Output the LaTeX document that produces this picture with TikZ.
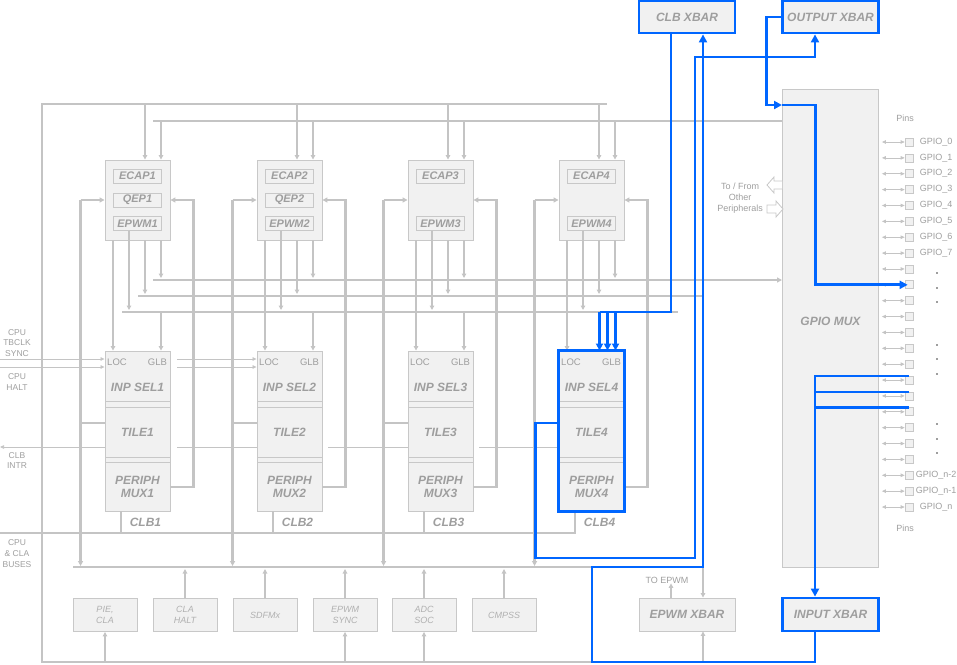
\documentclass[tikz,border=0pt]{standalone}
\usepackage{fontspec}
\setmainfont{Liberation Sans}
\usetikzlibrary{arrows.meta,positioning,calc}
\definecolor{lgray}{RGB}{196,196,196}
\definecolor{tgray}{RGB}{158,158,158}
\definecolor{ltext}{RGB}{176,176,176}
\definecolor{bfill}{RGB}{241,241,241}
\definecolor{bdraw}{RGB}{200,200,200}
\definecolor{clbblue}{RGB}{0,102,255}

\begin{document}
\begin{tikzpicture}[x=1pt,y=-1pt,
  box/.style={draw=bdraw,fill=bfill,line width=0.9pt,inner sep=0pt,align=center,text=tgray,font=\fontsize{12}{13.3}\selectfont\bfseries\itshape},
  inbox/.style={box,minimum width=48pt,minimum height=14pt,font=\fontsize{11}{12}\selectfont\bfseries\itshape},
  lowbox/.style={box,minimum width=64pt,minimum height=33pt,text=ltext,font=\fontsize{9}{10.7}\selectfont\itshape},
  xbar/.style={box,minimum width=96pt,minimum height=32pt,draw=clbblue,line width=2.8pt},
  pinsq/.style={draw=bdraw,fill=bfill,line width=0.7pt,minimum size=8pt,inner sep=0pt},
  bus/.style={draw=lgray,line width=2.6pt},
  wire/.style={draw=lgray,line width=1.8pt},
  arr/.style={wire,-{Triangle[length=4.5pt,width=4.5pt]}},
  busarr/.style={bus,-{Triangle[length=5pt,width=5pt]}},
  sig/.style={draw=lgray,line width=0.7pt},
  sigarr/.style={sig,-{Triangle[length=4pt,width=3.5pt]}},
  blueln/.style={draw=clbblue,line width=2.8pt},
  bluearr/.style={blueln,-{Triangle[length=8pt,width=8pt]}},
  lbl/.style={text=tgray,font=\fontsize{8.5}{10.7}\selectfont,align=center,inner sep=0pt},
  pinlbl/.style={text=tgray,font=\fontsize{9}{10}\selectfont,inner sep=0pt}
]
\useasboundingbox (0,0) rectangle (957,664);

% big blocks
\node[xbar] (clbxbar) at (687,17) {CLB XBAR};
\node[xbar] (outxbar) at (830.5,17) {OUTPUT XBAR};
\node[box,minimum width=96pt,minimum height=478pt,anchor=north west] (gpiomux) at (782,89) {};
\node[box,draw=none,fill=none] at ([yshift=7pt]gpiomux.center) {GPIO MUX};
\node[box,minimum width=96pt,minimum height=33pt] (epwmxbar) at (687,614.5) {EPWM XBAR};
\node[xbar,minimum height=33pt] (inpxbar) at (830.5,614.5) {INPUT XBAR};

% peripherals and CLB tiles
\foreach \k/\xo in {1/0,2/152,3/303,4/454}{
  \node[box,minimum width=65pt,minimum height=80pt] (per\k) at (137.5+\xo,200) {};
  \node[inbox] (ecap\k) at (137.5+\xo,176) {ECAP\k};
  \node[inbox] (epwm\k) at (137.5+\xo,223.5) {EPWM\k};
  \node[box,minimum width=65pt,minimum height=160pt] (clb\k) at (137.5+\xo,431) {};
  \node[box,minimum width=65pt,minimum height=50pt] (inp\k) at (137.5+\xo,376) {};
  \node[box,minimum width=65pt,minimum height=50pt] (tile\k) at (137.5+\xo,432) {TILE\k};
  \node[box,minimum width=65pt,minimum height=49pt] (pmux\k) at (137.5+\xo,487) {PERIPH\\MUX\k};
  \node[box,draw=none,fill=none] at ([yshift=-11pt]inp\k.center) {INP SEL\k};
  \node[lbl,font=\fontsize{9.5}{10}\selectfont] at ([xshift=-20.5pt,yshift=14pt]inp\k.center) {LOC};
  \node[lbl,font=\fontsize{9.5}{10}\selectfont] at ([xshift=20pt,yshift=14pt]inp\k.center) {GLB};
  \node[box,draw=none,fill=none] at ([xshift=8pt,yshift=-11pt]clb\k.south) {CLB\k};
  % into the peripherals
  \draw[arr] ([xshift=7.5pt]per\k.north |- 0,104) -- ([xshift=7.5pt]per\k.north);
  \draw[arr] ([xshift=23.5pt]per\k.north |- 0,121) -- ([xshift=23.5pt]per\k.north);
  \draw[busarr] ([xshift=-24pt]per\k.west) -- (per\k.west);
  \draw[busarr] (pmux\k.east) -| ([xshift=23pt]per\k.east) -- (per\k.east);
  % out of the peripherals
  \draw[arr] ([xshift=23.5pt]per\k.south) -- ([xshift=23.5pt]per\k.south |- 0,278);
  \draw[arr] ([xshift=7.5pt]per\k.south) -- ([xshift=7.5pt]per\k.south |- 0,294);
  \draw[arr] ([xshift=-8.5pt]epwm\k.south) -- ([xshift=-8.5pt]epwm\k.south |- 0,310);
  \draw[arr] ([xshift=-24.5pt]per\k.south) -- ([xshift=-24.5pt]inp\k.north);
  \ifnum\k<4
    \draw[arr] ([xshift=23.5pt]inp\k.north |- 0,312) -- ([xshift=23.5pt]inp\k.north);
  \fi
  % tile output and CLB bus
  \draw[busarr] ([xshift=-24pt]per\k.west) -- ([xshift=-24pt]per\k.west |- 0,566);
  \draw[bus] ([yshift=9pt]tile\k.west) -- ++(-24,0);
  \draw[bus] ([xshift=-16.5pt]clb\k.south) -- ++(0,22);
}
\foreach \k in {1,2}
  \node[inbox] (qep\k) at (per\k) {QEP\k};

% buses
\draw[bus] (607,104) -| (42,662) -- (592,662);
\draw[bus] (153,121) -- (gpiomux.west |- 0,121);
\draw[busarr] (153,280) -- (gpiomux.west |- 0,280);
\draw[bus] (138,296) -- (702,296);
\draw[bus] (122,312) -- (678,312);
\draw[bus] (0,533) -- (576,533);
\draw[bus] (73,567) -- (592,567);

% CPU side signals
\node[lbl] (tbclk) at (17,343) {CPU\\TBCLK\\SYNC};
\node[lbl] (halt) at (17,382) {CPU\\HALT};
\node[lbl] (intr) at (17,460.5) {CLB\\INTR};
\node[lbl] (cpubus) at (17,553.5) {CPU\\\& CLA\\BUSES};
\draw[sigarr] (0,359) -- (inp1.west |- 0,359);
\draw[sigarr] (0,367) -- (inp1.west |- 0,367);
\draw[sigarr] (177,359) -- (inp2.west |- 0,359);
\draw[sigarr] (177,367) -- (inp2.west |- 0,367);
\draw[sigarr] ([yshift=-15pt]tile1.west) -- (0,447);
\foreach \k in {2,3,4}
  \draw[sig] ([yshift=-15pt]tile\k.west) -- ++(-80,0);

% bottom peripherals
\foreach \n/\x/\t in {pie/105/{PIE,\\CLA},clahalt/185/{CLA\\HALT},sdfm/265/SDFMx,
    epwmsync/345/{EPWM\\SYNC},adcsoc/424/{ADC\\SOC},cmpss/504/CMPSS}
  \node[lowbox] (\n) at (\x,615) {\t};
\foreach \n in {clahalt,sdfm,epwmsync,adcsoc,cmpss}
  \draw[arr] (\n.north) -- (\n.north |- 0,569);
\foreach \n in {pie,epwmsync,adcsoc}
  \draw[arr] (\n.south |- 0,662) -- (\n.south);

% EPWM XBAR
\node[lbl,font=\fontsize{9}{10}\selectfont] (toepwm) at (667,580) {TO EPWM};
\draw[arr] ([xshift=-16pt]epwmxbar.north) -- ([xshift=-16pt]epwmxbar.north |- toepwm.south);
\draw[arr] ([xshift=16pt]epwmxbar.north |- 0,567) -- ([xshift=16pt]epwmxbar.north);
\draw[arr] ([xshift=16pt]epwmxbar.south |- 0,662) -- ([xshift=16pt]epwmxbar.south);

% other peripherals
\node[lbl,font=\fontsize{9}{11}\selectfont] (tofrom) at (740,198) {To / From\\Other\\Peripherals};
\draw[draw=bdraw,fill=white,line width=0.8pt] (782,181) -- (774,181) -- (774,177) -- (767,185)
  -- (774,193) -- (774,189) -- (782,189);
\draw[draw=bdraw,fill=white,line width=0.8pt] (767,205) -- (776,205) -- (776,201) -- (783,209)
  -- (776,217) -- (776,213) -- (767,213) -- cycle;

% pins
\node[pinlbl] at (905,118) {Pins};
\node[pinlbl] at (905,528) {Pins};
\foreach \i in {0,...,23}{
  \node[pinsq] (pin\i) at (909,142+15.87*\i) {};
  \draw[sig,{Triangle[length=4pt,width=3.5pt]}-{Triangle[length=4pt,width=3.5pt]}]
    ([xshift=3pt]gpiomux.east |- pin\i.west) -- (pin\i.west);
}
\foreach \i in {0,...,7}
  \node[pinlbl] at (936,142+15.87*\i) {GPIO\_\i};
\foreach \i/\t in {21/n-2,22/n-1,23/n}
  \node[pinlbl] at (936,142+15.87*\i) {GPIO\_\t};
\foreach \y in {272,287,301,344,358,373,423,438,452}
  \fill[tgray] (936,\y) rectangle ++(2,2);

% CLB4 path (blue)
\draw[blueln] (clb4.south west) rectangle (clb4.north east);
\draw[blueln] ([xshift=-16pt]clbxbar.south) |- ([xshift=8pt]inp4.north |- 0,312);
\foreach \dx in {8,16,24}
  \draw[blueln,-{Triangle[length=7pt,width=7pt]}] ([xshift=\dx pt]inp4.north |- 0,312) -- ([xshift=\dx pt]inp4.north);
\draw[bluearr] ([xshift=-15.5pt]inpxbar.south) |- (592,662) |- ([xshift=16pt]clbxbar.south |- 0,567)
  -- ([xshift=16pt]clbxbar.south);
\draw[bluearr] ([yshift=9pt]tile4.west) -- ++(-23,0) |- (695,558)
  |- ([xshift=-15.5pt]outxbar.south |- 0,57) -- ([xshift=-15.5pt]outxbar.south);
\draw[bluearr] (outxbar.west) -- ++(-15,0) |- (gpiomux.west |- 0,105);
\draw[bluearr,shorten >=-3pt] (gpiomux.west |- 0,105) -| ([xshift=-15pt]gpiomux.center |- pin9.west) -- (pin9.west);
\draw[bluearr] ([yshift=4pt]pin15.center) -| ([xshift=-15.5pt]inpxbar.north);
\foreach \i in {16,17}
  \draw[blueln] ([yshift=4pt]pin\i.center) -- ++(-94,0);
\end{tikzpicture}
\end{document}
